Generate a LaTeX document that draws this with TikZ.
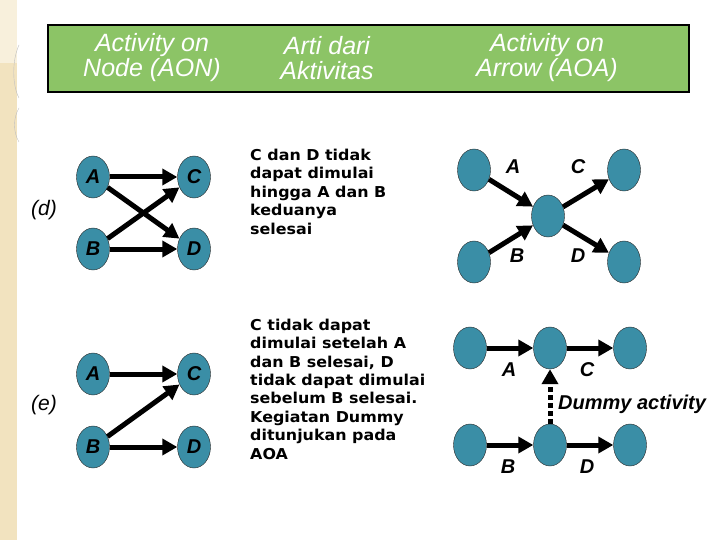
\documentclass[tikz,border=0pt]{standalone}
\usepackage{fontspec}
\setmainfont{Liberation Sans}
\newfontfamily\descfont[FakeStretch=1.06]{DejaVu Sans}
\usepackage{xcolor}
\usetikzlibrary{shapes.geometric,arrows.meta,positioning}

\definecolor{evteal}{HTML}{3A8EA6}
\definecolor{cabverde}{HTML}{8CC466}
\definecolor{faixabege}{HTML}{F2E3BF}

\tikzset{
  evento/.style={ellipse, draw=black!85, fill=evteal, minimum width=33pt,
    minimum height=42pt, inner sep=0pt,
    font=\fontsize{20}{20}\selectfont\bfseries\itshape},
  seta/.style={line width=5pt, -{Triangle[length=15pt,width=16pt]}},
  setadummy/.style={seta, dash pattern=on 5pt off 3pt},
  rotulo/.style={font=\fontsize{20}{20}\selectfont\bfseries\itshape},
  cabtexto/.style={align=center, text=white,
    font=\fontsize{25}{25}\selectfont\itshape},
  desc/.style={anchor=base west, align=left, inner sep=0pt,
    font=\descfont\bfseries\fontsize{15}{18.4}\selectfont},
  caso/.style={font=\fontsize{21}{21}\selectfont\itshape}
}

\begin{document}
\begin{tikzpicture}[x=1pt,y=-1pt]
  \useasboundingbox (0,0) rectangle (720,540);
  \fill[white] (0,0) rectangle (720,540);

  % Faixa lateral
  \fill[faixabege] (0,0) rectangle (17,540);
  \fill[faixabege!55] (0,0) rectangle (17,63);
  \draw[black!25] (19,45) .. controls (12,60) and (12,85) .. (19,98);
  \draw[black!25] (19,108) .. controls (13,118) and (13,132) .. (19,142);

  % Cabecalho
  \draw[fill=cabverde, line width=1.2pt] (48,25) rectangle (689,92);
  \node[cabtexto] (cabAON) at (152,58) {Activity on\\Node (AON)};
  \node[cabtexto] (cabArti) at (327,58) {Arti dari\\Aktivitas};
  \node[cabtexto] (cabAOA) at (547,58) {Activity on\\Arrow (AOA)};

  % Caso (d): AON
  \node[caso] (casoD) at (44,210) {(d)};
  \node[evento] (dA) at (93,177) {A};
  \node[evento] (dC) at (194,177) {C};
  \node[evento] (dB) at (93,249) {B};
  \node[evento] (dD) at (194,249) {D};
  \draw[seta] (dA) -- (dC);
  \draw[seta] (dA) -- (dD);
  \draw[seta] (dB) -- (dC);
  \draw[seta] (dB) -- (dD);

  % texto: base na ultima linha
  \node[desc] (descD) at (250,234) {C dan D tidak\\dapat dimulai\\hingga A dan B\\keduanya\\selesai};

  % Caso (d): AOA
  \node[evento] (dn1) at (474,170) {};
  \node[evento] (dn2) at (474,262) {};
  \node[evento] (dnm) at (548,216) {};
  \node[evento] (dn3) at (624,170) {};
  \node[evento] (dn4) at (624,262) {};
  \draw[seta] (dn1) -- (dnm);
  \draw[seta] (dn2) -- (dnm);
  \draw[seta] (dnm) -- (dn3);
  \draw[seta] (dnm) -- (dn4);
  \node[rotulo] (dlA) at (513,167) {A};
  \node[rotulo] (dlB) at (517,256) {B};
  \node[rotulo] (dlC) at (578,167) {C};
  \node[rotulo] (dlD) at (578,256) {D};

  % Caso (e): AON
  \node[caso] (casoE) at (44,405) {(e)};
  \node[evento] (eA) at (93,374) {A};
  \node[evento] (eC) at (194,374) {C};
  \node[evento] (eB) at (93,447) {B};
  \node[evento] (eD) at (194,447) {D};
  \draw[seta] (eA) -- (eC);
  \draw[seta] (eB) -- (eC);
  \draw[seta] (eB) -- (eD);

  \node[desc] (descE) at (250,459) {C tidak dapat\\dimulai setelah A\\dan B selesai, D\\tidak dapat dimulai\\sebelum B selesai.\\Kegiatan Dummy\\ditunjukan pada\\AOA};

  % Caso (e): AOA
  \node[evento] (en1) at (470,348) {};
  \node[evento] (en2) at (550,348) {};
  \node[evento] (en3) at (630,348) {};
  \node[evento] (en4) at (470,445) {};
  \node[evento] (en5) at (550,445) {};
  \node[evento] (en6) at (630,445) {};
  \draw[seta] (en1) -- (en2);
  \draw[seta] (en2) -- (en3);
  \draw[seta] (en4) -- (en5);
  \draw[seta] (en5) -- (en6);
  \draw[setadummy] (en5) -- (en2); % atividade fantasma
  \node[rotulo] (elA) at (509,370) {A};
  \node[rotulo] (elC) at (587,370) {C};
  \node[rotulo] (elB) at (508,467) {B};
  \node[rotulo] (elD) at (587,467) {D};
  \node[rotulo, anchor=west, inner sep=0pt] (elDummy) at (558,404) {Dummy activity};
\end{tikzpicture}
\end{document}
